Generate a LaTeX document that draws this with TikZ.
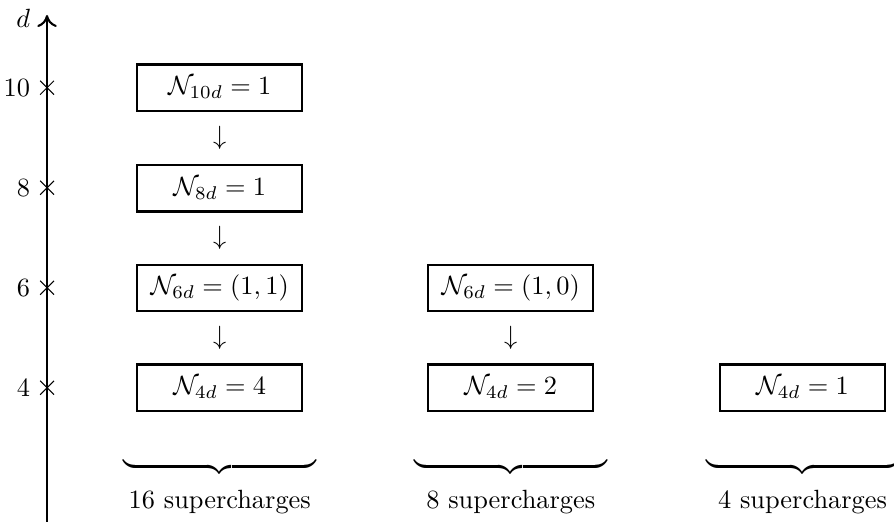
\documentclass[tikz,border=0pt]{standalone}
\usepackage{amsmath,amssymb}
\usetikzlibrary{arrows.meta,positioning,calc,shapes.misc}

\begin{document}
\begin{tikzpicture}[
    every node/.style={font=\normalsize},
    theory/.style={draw, thick, minimum width=2.2cm, minimum height=0.62cm, inner sep=2pt},
    tickmark/.style={draw, cross out, thin, minimum size=0.17cm, inner sep=0pt},
    axis/.style={-{To[length=1.6mm, width=2.6mm]}, thick},
    brace/.style={inner sep=0pt, anchor=north}
]
\useasboundingbox (0,0) rectangle (11.92,6.96);
% dimension axis
\coordinate (base) at (0.627,0);
\coordinate (top) at (0.627,6.76);
\draw[axis] (base) -- (top);
\node[left=0.1cm of top, yshift=-0.04cm] (dlab) {$d$};
\foreach \d in {4,6,8,10} {
  \node[tickmark] (t\d) at (0.627,{1.79+(\d-4)*0.6667}) {};
  \node[left=0.01cm of t\d] (l\d) {$\d$};
}
% 16 supercharges
\node[theory] (n10) at (2.93,5.79) {$\mathcal{N}_{10d}=1$};
\node[theory] (n8a) at (2.93,4.45) {$\mathcal{N}_{8d}=1$};
\node[theory] (n6a) at (2.93,3.12) {$\mathcal{N}_{6d}=(1,1)$};
\node[theory] (n4a) at (2.93,1.79) {$\mathcal{N}_{4d}=4$};
% 8 supercharges
\node[theory] (n6b) at (6.81,3.12) {$\mathcal{N}_{6d}=(1,0)$};
\node[theory] (n4b) at (6.81,1.79) {$\mathcal{N}_{4d}=2$};
% 4 supercharges
\node[theory] (n4c) at (10.70,1.79) {$\mathcal{N}_{4d}=1$};
% reductions
\node (r108) at ($(n10)!0.5!(n8a)$) {$\downarrow$};
\node (r86) at ($(n8a)!0.5!(n6a)$) {$\downarrow$};
\node (r64a) at ($(n6a)!0.5!(n4a)$) {$\downarrow$};
\node (r64b) at ($(n6b)!0.5!(n4b)$) {$\downarrow$};
% supercharge counts
\node[brace] (b16) at (2.93,0.87) {$\underbrace{\hspace{2.57cm}}$};
\node[brace] (b8) at (6.81,0.87) {$\underbrace{\hspace{2.57cm}}$};
\node[brace] (b4) at (10.70,0.87) {$\underbrace{\hspace{2.57cm}}$};
\node[below=0.05cm of b16] (s16) {16 supercharges};
\node[below=0.05cm of b8] (s8) {8 supercharges};
\node[below=0.05cm of b4] (s4) {4 supercharges};
\end{tikzpicture}
\end{document}
